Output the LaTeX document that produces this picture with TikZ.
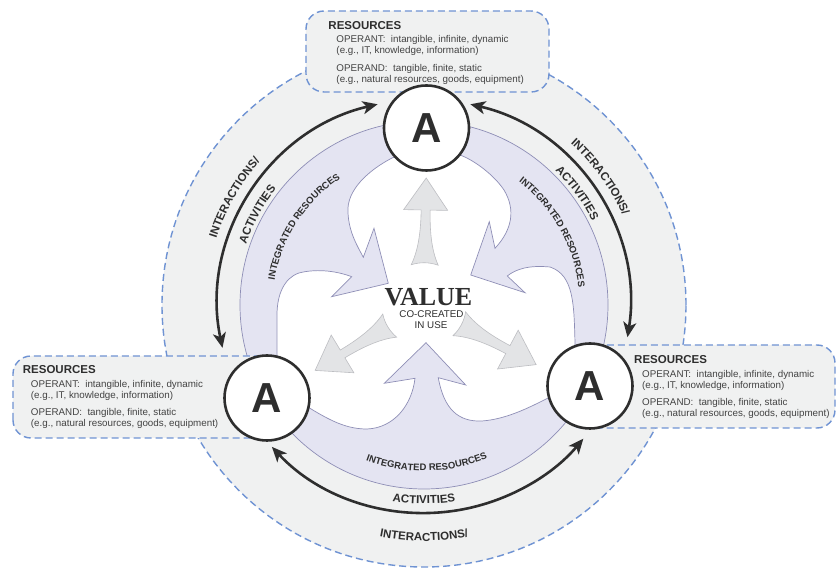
\documentclass[tikz,border=0pt]{standalone}
\usepackage{fontspec}
\setmainfont{Liberation Sans}
\newfontfamily\valuefont{Liberation Serif}
\usetikzlibrary{arrows.meta,decorations.text}
\definecolor{ringgray}{HTML}{F0F1F1}
\definecolor{dashblue}{HTML}{6F93D3}
\definecolor{lavender}{HTML}{E4E4F2}
\definecolor{lavline}{HTML}{8E8EB6}
\definecolor{arrowgray}{HTML}{E3E4E6}
\definecolor{arrowline}{HTML}{BDBEC2}
\definecolor{ink}{HTML}{2E2E2E}
\tikzset{
  dashline/.style={draw=dashblue, dash pattern=on 7pt off 4pt, line width=1.4pt},
  resbox/.style={dashline, fill=ringgray, rounded corners=18pt},
  actor/.style={circle, draw=ink, line width=2.6pt, fill=white, minimum size=85pt, inner sep=0pt,
    font=\fontsize{42}{42}\selectfont\bfseries, text=ink},
  cycle arrow/.style={draw=ink, line width=2.6pt,
    {Stealth[length=15pt,width=13pt,inset=4pt]}-{Stealth[length=15pt,width=13pt,inset=4pt]}},
  gray arrow/.style={fill=arrowgray, draw=arrowline, line width=0.6pt},
  restitle/.style={anchor=base west, inner sep=0pt, text=ink, font=\fontsize{11.5}{12}\selectfont\bfseries},
  restext/.style={anchor=base west, inner sep=0pt, text=ink!90, font=\fontsize{9.8}{11}\selectfont},
}
% text along an arc: radius, from, to, size, text
\newcommand{\arctext}[5]{%
  \path[decorate, decoration={text along path, text align=center,
    text={|\fontsize{#4}{#4}\selectfont\bfseries\color{ink}|#5}}]
    (#2:#1) arc[start angle=#2, end angle=#3, radius=#1];}
% resources text block at a named base point
\newcommand{\resources}[1]{%
  \node[restitle] (#1-title) at (#1) {RESOURCES};
  \node[restext] (#1-operant) at ([shift={(8,-13.5)}]#1) {OPERANT:~ intangible, infinite, dynamic};
  \node[restext] (#1-ex1) at ([shift={(8,-24.5)}]#1) {(e.g., IT, knowledge, information)};
  \node[restext] (#1-operand) at ([shift={(8,-42)}]#1) {OPERAND:~ tangible, finite, static};
  \node[restext] (#1-ex2) at ([shift={(8,-53)}]#1) {(e.g., natural resources, goods, equipment)};}
% small arrow from the centre outwards
\newcommand{\valuearrow}[1]{%
  \filldraw[gray arrow, rotate=#1] (40,13.5) .. controls (56,6) and (76,4.5) .. (95,4.5)
    -- (95,22) -- (127,0) -- (95,-22) -- (95,-4.5)
    .. controls (76,-4.5) and (56,-6) .. (40,-13.5)
    .. controls (43,-5) and (43,5) .. (40,13.5) -- cycle;}

\begin{document}
\begin{tikzpicture}[x=1pt,y=1pt]
\useasboundingbox (-424,-270) rectangle (412,305);

% rings
\draw[dashline, fill=ringgray] (0,0) circle[radius=262];
\filldraw[fill=lavender, draw=lavline, line width=0.7pt] (0,0) circle[radius=184];

% white lobes with the integrated resources arrows
\filldraw[fill=white, draw=lavline, line width=0.7pt]
  (2,-37.7) -- (41.7,-80) -- (14.3,-72.7)
  .. controls (20,-105) and (35,-117) .. (58,-116)
  .. controls (85,-114) and (110,-100) .. (130,-90) -- (150,-60) -- (151,-38)
  .. controls (150,0) and (150,30) .. (126,38)
  .. controls (105,40) and (92,36) .. (83.3,29)
  -- (101,12.3) -- (46.7,30) -- (65.3,83.3) -- (71,56.7)
  .. controls (88,75) and (92,95) .. (80,115)
  .. controls (70,130) and (50,145) .. (36,150) -- (0,160) -- (-32,147)
  .. controls (-55,135) and (-78,115) .. (-76,92)
  .. controls (-75,72) and (-66,58) .. (-60.7,47.7)
  -- (-50,76.7) -- (-35.7,21.7) -- (-92.3,8.3) -- (-72.3,28.3)
  .. controls (-90,35) and (-110,36) .. (-125,32)
  .. controls (-140,27) and (-147,10) .. (-147,-10) -- (-147,-50) -- (-130,-90) -- (-114,-103.3)
  .. controls (-90,-118) and (-75,-124) .. (-57,-124)
  .. controls (-30,-123) and (-12,-100) .. (-9,-73.3)
  -- (-39.7,-78.3) -- cycle;

% resource boxes
\draw[resbox] (-118,213) rectangle (125,294);
\draw[resbox] (-411,-133) rectangle (-150,-51);
\draw[resbox] (141,-123) rectangle (411,-40);
\coordinate (top) at (-95.7,275.7);
\coordinate (left) at (-401.3,-69);
\coordinate (right) at (210,-59);
\resources{top}
\resources{left}
\resources{right}

% value in use
\valuearrow{89}
\valuearrow{211}
\valuearrow{332}
\node[anchor=base, inner sep=0pt, text=ink, font=\valuefont\bfseries\fontsize{26}{26}\selectfont] (value) at (4.5,-1) {VALUE};
\node[anchor=base, inner sep=0pt, text=ink, font=\fontsize{9.8}{11}\selectfont] (cocreated) at (7.5,-12.3) {CO-CREATED};
\node[anchor=base, inner sep=0pt, text=ink, font=\fontsize{9.8}{11}\selectfont] (inuse) at (7,-23.3) {IN USE};

% actors
\node[actor] (A1) at (2.5,177) {A};
\node[actor] (A2) at (-157,-93) {A};
\node[actor] (A3) at (166,-81) {A};

% interactions
\coordinate (l1) at (103:206);
\coordinate (r1) at (77:206);
\coordinate (b1) at (223:208);
\draw[cycle arrow] (l1) arc[start angle=103, end angle=192, radius=206];
\draw[cycle arrow] (r1) arc[start angle=77, end angle=-9, radius=206];
\draw[cycle arrow] (b1) arc[start angle=223, end angle=320, radius=208];

% labels on the rings
\arctext{218}{190}{111}{11.5}{INTERACTIONS/}
\arctext{188}{190}{113}{11.5}{ACTIVITIES}
\arctext{151.5}{185}{109}{9.5}{INTEGRATED RESOURCES}
\arctext{218}{75}{-3}{11.5}{INTERACTIONS/}
\arctext{188}{75}{-2.6}{11.5}{ACTIVITIES}
\arctext{155.5}{68}{-9}{9.5}{INTEGRATED RESOURCES}
\arctext{166}{233}{309}{9.5}{INTEGRATED RESOURCES}
\arctext{199}{235}{305}{11.5}{ACTIVITIES}
\arctext{236}{240}{300}{11.5}{INTERACTIONS/}
\end{tikzpicture}
\end{document}
